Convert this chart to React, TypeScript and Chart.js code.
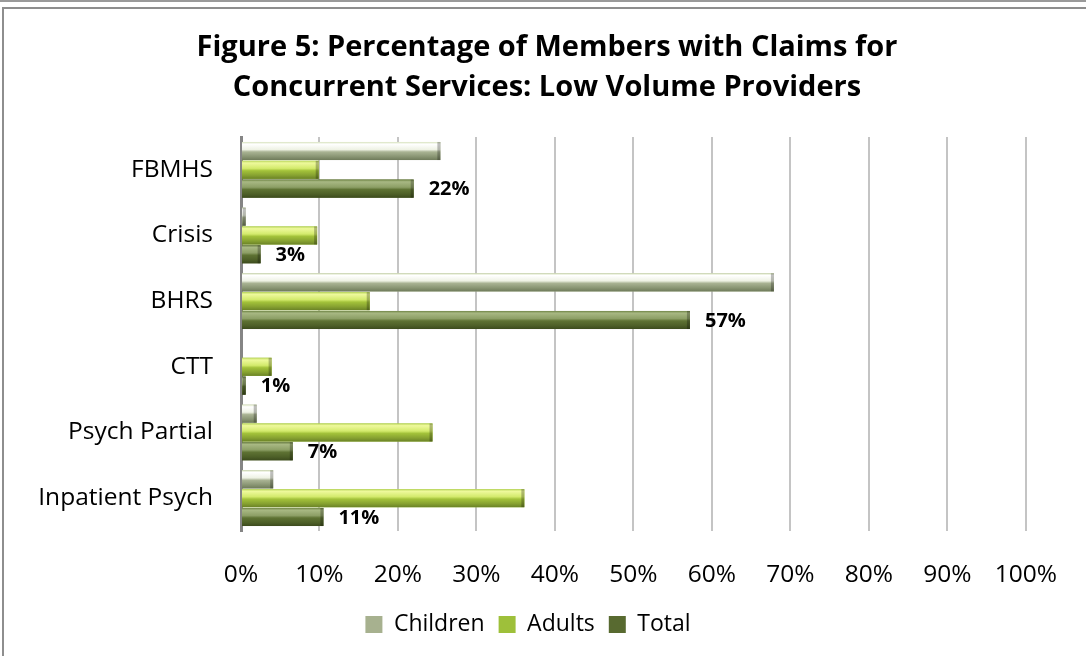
import React, { useEffect, useRef } from 'react';
import { Chart, registerables } from 'chart.js';

Chart.register(...registerables);

const titleLines = [
  'Figure 5: Percentage of Members with Claims for',
  'Concurrent Services: Low Volume Providers',
];
const categories = ['FBMHS', 'Crisis', 'BHRS', 'CTT', 'Psych Partial', 'Inpatient Psych'];
const seriesNames = ['Children', 'Adults', 'Total'];
const childrenValues = [25.4, 0.6, 67.9, 0, 2.0, 4.1];
const adultsValues = [9.9, 9.7, 16.4, 3.9, 24.4, 36.1];
const totalValues = [22, 2.5, 57.2, 0.6, 6.6, 10.5];
const xTickValues = [0, 10, 20, 30, 40, 50, 60, 70, 80, 90, 100];
const xScaleEnd = 107.2; // blank room right of the 100% gridline

const solidColors = ['#a7b18f', '#9ec03a', '#586a30'];
const gradientStops: [number, string][][] = [
  [
    [0, '#d7e2bd'],
    [0.12, '#ffffff'],
    [0.42, '#eef2e4'],
    [0.55, '#a9b393'],
    [0.8, '#8a9674'],
    [1, '#6f7b5a'],
  ],
  [
    [0, '#b9d65a'],
    [0.12, '#eef99c'],
    [0.42, '#d3ea6c'],
    [0.55, '#a3c23a'],
    [0.8, '#87a231'],
    [1, '#6a8226'],
  ],
  [
    [0, '#6f8445'],
    [0.12, '#a8b883'],
    [0.42, '#8d9f66'],
    [0.55, '#5e7233'],
    [0.8, '#4e6028'],
    [1, '#3c4b1d'],
  ],
];

const shadingPlugin = {
  id: 'barShading',
  afterLayout(chart: any) {
    if (chart.legend) chart.legend.right -= 38;
  },
  afterDatasetsDraw(chart: any) {
    const ctx = chart.ctx;
    ctx.save();
    chart.data.datasets.forEach((_: any, di: number) => {
      const meta = chart.getDatasetMeta(di);
      meta.data.forEach((el: any) => {
        const { x, y, base, height } = el.getProps(['x', 'y', 'base', 'height'], true);
        const w = x - base;
        if (w <= 0.3) return;
        const top = y - height / 2;
        const g = ctx.createLinearGradient(0, top, 0, top + height);
        gradientStops[di].forEach(([p, c]) => g.addColorStop(p, c));
        ctx.fillStyle = g;
        ctx.fillRect(base, top, w, height);
        const cap = Math.min(3, w);
        ctx.fillStyle = 'rgba(0,0,0,0.25)';
        ctx.fillRect(x - cap, top, cap, height);
      });
    });
    const meta = chart.getDatasetMeta(2);
    ctx.fillStyle = '#000';
    ctx.font = 'bold 20px "Open Sans"';
    ctx.textAlign = 'left';
    ctx.textBaseline = 'middle';
    meta.data.forEach((el: any, i: number) => {
      const { x, y } = el.getProps(['x', 'y'], true);
      ctx.fillText(Math.round(totalValues[i]) + '%', x + 15, y + 1);
    });
    ctx.restore();
  },
};

export default function App() {
  const canvasRef = useRef<HTMLCanvasElement | null>(null);

  useEffect(() => {
    if (!canvasRef.current) return;
    const chart = new Chart(canvasRef.current, {
      type: 'bar',
      data: {
        labels: categories,
        datasets: [
          { label: seriesNames[0], data: childrenValues, backgroundColor: solidColors[0] },
          { label: seriesNames[1], data: adultsValues, backgroundColor: solidColors[1] },
          { label: seriesNames[2], data: totalValues, backgroundColor: solidColors[2] },
        ],
      },
      options: {
        indexAxis: 'y',
        animation: false,
        responsive: false,
        maintainAspectRatio: false,
        datasets: {
          bar: { categoryPercentage: 0.86, barPercentage: 0.96, borderWidth: 0 },
        },
        layout: { padding: { left: 8, right: 0, top: 0, bottom: 10 } },
        scales: {
          x: {
            min: xTickValues[0],
            max: xScaleEnd,
            afterBuildTicks: (s: any) => {
              s.ticks = xTickValues.map((v) => ({ value: v }));
            },
            afterFit: (s: any) => {
              s.height = 68;
            },
            ticks: {
              callback: (v: any) => Math.round(v) + '%',
              font: { family: 'Open Sans', size: 24.5 },
              color: '#000',
              padding: 29,
            },
            grid: { color: '#c4c4c4', lineWidth: 2, drawTicks: false },
            border: { display: false },
          },
          y: {
            afterFit: (s: any) => {
              s.width = 233;
            },
            ticks: {
              font: { family: 'Open Sans', size: 24.5 },
              color: '#000',
              padding: 28,
            },
            grid: { display: false, drawTicks: false },
            border: { display: true, color: '#858585', width: 3 },
          },
        },
        plugins: {
          title: {
            display: true,
            text: titleLines,
            color: '#000',
            font: { family: 'Open Sans', size: 29, weight: 'bold', lineHeight: 40 / 29 },
            padding: { top: 28, bottom: 29 },
          },
          legend: {
            position: 'bottom',
            labels: {
              color: '#000',
              font: { family: 'Open Sans', size: 23 },
              boxWidth: 17,
              boxHeight: 17,
              padding: 14,
            },
          },
          tooltip: { enabled: false },
        },
      },
      plugins: [shadingPlugin],
    });
    return () => chart.destroy();
  }, []);

  return (
    <div style={{ position: 'fixed', left: 0, top: 0, width: 1086, height: 656, overflow: 'hidden', background: '#fff' }}>
      <canvas ref={canvasRef} width={1086} height={656} style={{ position: 'absolute', left: 0, top: 0, width: 1086, height: 656 }} />
      <div style={{ position: 'absolute', left: 0, top: 0, width: 1086, height: 0, borderTop: '2px solid #9a9a9a', pointerEvents: 'none' }} />
      <div style={{ position: 'absolute', left: 2, top: 7, width: 1200, height: 700, border: '2px solid #8e8e8e', pointerEvents: 'none' }} />
    </div>
  );
}
